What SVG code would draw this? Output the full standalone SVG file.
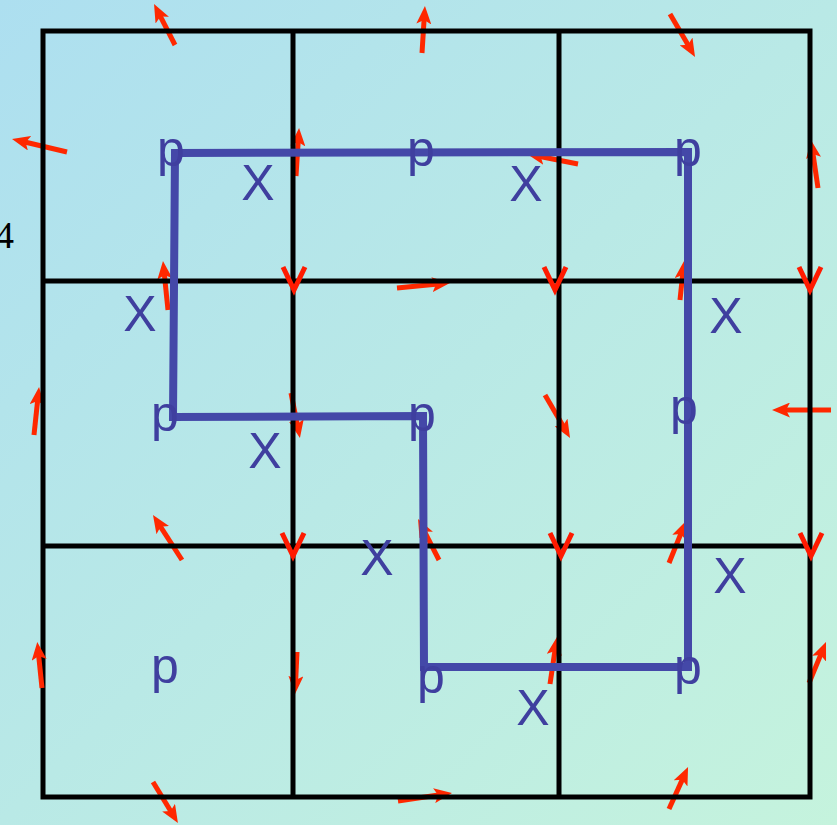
<svg xmlns="http://www.w3.org/2000/svg" width="837" height="825" viewBox="0 0 837 825">
<defs>
<linearGradient id="bg" x1="0" y1="0" x2="1" y2="1">
<stop offset="0" stop-color="#addff0"/>
<stop offset="0.5" stop-color="#b9e9e6"/>
<stop offset="1" stop-color="#c5f3dd"/>
</linearGradient>
<marker id="ah" markerUnits="userSpaceOnUse" markerWidth="18" markerHeight="15" viewBox="0 0 18 15" refX="6" refY="7.5" orient="auto">
<path d="M0,0 L18,7.5 L0,15 L4,7.5 z" fill="#ff2800"/>
</marker>
</defs>
<style>
.arr{stroke:#ff2800;stroke-width:5;fill:none;marker-end:url(#ah)}
.vee{stroke:#ff1a00;stroke-width:5;fill:none;stroke-linejoin:miter}
.grid{stroke:#000;stroke-width:5;fill:none}
.path{stroke:#4448a8;stroke-width:8;fill:none;stroke-linejoin:miter}
.lbl{font-family:"Liberation Sans",Arial,sans-serif;font-size:50px;fill:#3f3f9f;text-anchor:middle}
</style>
<rect width="837" height="825" fill="url(#bg)"/>
<text x="-5" y="248" font-family="Liberation Serif, serif" font-size="38" fill="#000">4</text>
<g id="connectors">
<line class="arr" x1="175" y1="45" x2="159.5" y2="14.7"/>
<line class="arr" x1="422" y1="53" x2="424.2" y2="18"/>
<line class="arr" x1="670" y1="14" x2="689" y2="46.6"/>
<line class="arr" x1="67" y1="152" x2="23.7" y2="141.8"/>
<line class="arr" x1="296" y1="176" x2="298.3" y2="140"/>
<line class="arr" x1="578" y1="164" x2="538.8" y2="156.3"/>
<line class="arr" x1="818" y1="188" x2="812.7" y2="151.9"/>
<line class="arr" x1="168" y1="310" x2="164.2" y2="272.9"/>
<line class="arr" x1="397" y1="288" x2="438" y2="284.1"/>
<line class="arr" x1="680" y1="300" x2="682.8" y2="272.9"/>
<line class="arr" x1="34" y1="435" x2="37.8" y2="398.9"/>
<line class="arr" x1="291" y1="393" x2="297.6" y2="426.2"/>
<line class="arr" x1="545" y1="395" x2="564" y2="427.6"/>
<line class="arr" x1="831" y1="410" x2="784" y2="410"/>
<line class="arr" x1="182" y1="560" x2="159.5" y2="525.1"/>
<line class="arr" x1="439" y1="560" x2="423.5" y2="529.7"/>
<line class="arr" x1="669" y1="563" x2="681.5" y2="532.1"/>
<line class="arr" x1="297" y1="652" x2="295.6" y2="682"/>
<line class="arr" x1="550" y1="684" x2="555.2" y2="648.9"/>
<line class="arr" x1="809" y1="683" x2="821.4" y2="653.1"/>
<line class="arr" x1="153" y1="782" x2="171.7" y2="812.8"/>
<line class="arr" x1="398" y1="801" x2="440.1" y2="794.8"/>
<line class="arr" x1="669" y1="809" x2="683.1" y2="777.9"/>
</g>
<g id="grid">
<rect class="grid" x="43" y="31" width="767" height="766"/>
<line class="grid" x1="293" y1="31" x2="293" y2="797"/>
<line class="grid" x1="559" y1="31" x2="559" y2="797"/>
<line class="grid" x1="43" y1="281" x2="810" y2="281"/>
<line class="grid" x1="43" y1="546" x2="810" y2="546"/>
</g>
<g id="connectors-top">
<line class="arr" x1="42" y1="688" x2="38.5" y2="653.9"/>
</g>
<g id="vees">
<path class="vee" d="M283,267 L294,290 L305,267"/>
<path class="vee" d="M544,267 L555,290 L566,267"/>
<path class="vee" d="M799,267 L810,290 L821,267"/>
<path class="vee" d="M282,533 L293,556 L304,533"/>
<path class="vee" d="M550,533 L561,556 L572,533"/>
<path class="vee" d="M800,533 L811,556 L822,533"/>
</g>
<g id="cycle">
<path class="path" d="M175,153 L688,152 L688,667 L424,667 L423,416 L173,417 Z"/>
</g>
<g id="labels">
<g id="p1"><text class="lbl" x="171" y="166">p</text></g>
<g id="p2"><text class="lbl" x="421" y="166">p</text></g>
<g id="p3"><text class="lbl" x="688" y="166">p</text></g>
<g id="p4"><text class="lbl" x="165" y="431">p</text></g>
<g id="p5"><text class="lbl" x="422" y="431">p</text></g>
<g id="p6"><text class="lbl" x="684" y="424">p</text></g>
<g id="p7"><text class="lbl" x="165" y="683">p</text></g>
<g id="p8"><text class="lbl" x="431" y="693">p</text></g>
<g id="p9"><text class="lbl" x="688" y="684">p</text></g>
<g id="x1"><text class="lbl" x="258" y="200">X</text></g>
<g id="x2"><text class="lbl" x="526" y="201">X</text></g>
<g id="x3"><text class="lbl" x="140" y="331">X</text></g>
<g id="x4"><text class="lbl" x="726" y="333">X</text></g>
<g id="x5"><text class="lbl" x="265" y="468">X</text></g>
<g id="x6"><text class="lbl" x="377" y="575">X</text></g>
<g id="x7"><text class="lbl" x="730" y="593">X</text></g>
<g id="x8"><text class="lbl" x="533" y="725">X</text></g>
</g>
</svg>
